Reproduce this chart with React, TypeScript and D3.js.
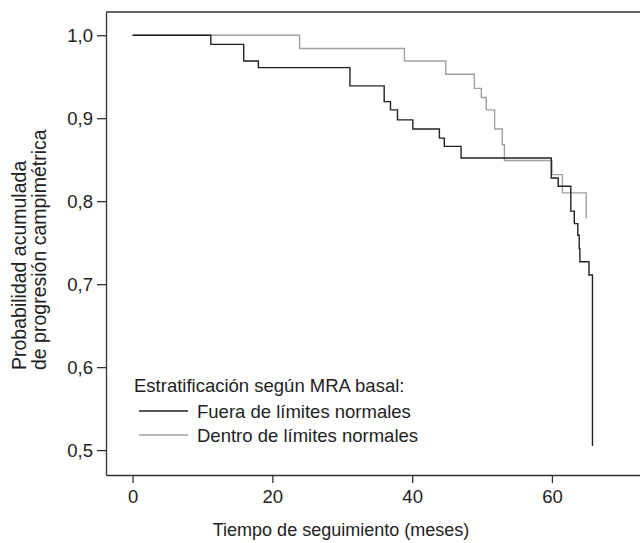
import { useEffect, useRef } from 'react';
import * as d3 from 'd3';

// Curvas de Kaplan-Meier: progresión campimétrica según MRA basal
const WIDTH = 640;
const HEIGHT = 543;
const BOX = { left: 106, right: 640, top: 12, bottom: 475 };
const FONT = '"Liberation Sans", Arial, Helvetica, sans-serif';

// Fuera de límites normales (negro)
const fueraTimes = [0, 11.2, 15.9, 18.0, 31.1, 36.0, 36.9, 37.9, 40.1, 43.9, 44.6, 47.0, 59.9, 60.9, 62.7, 63.2, 63.7, 63.9, 64.0, 65.3, 65.8];
const fueraSurv = [1.0, 0.989, 0.969, 0.961, 0.939, 0.92, 0.91, 0.898, 0.887, 0.876, 0.866, 0.852, 0.828, 0.818, 0.788, 0.773, 0.759, 0.743, 0.727, 0.711, 0.505];

// Dentro de límites normales (gris)
const dentroTimes = [0, 23.9, 38.9, 44.8, 48.9, 49.9, 50.6, 51.8, 52.9, 53.2, 60.0, 61.5, 64.9];
const dentroSurv = [1.0, 0.984, 0.969, 0.953, 0.936, 0.925, 0.91, 0.887, 0.868, 0.849, 0.832, 0.81, 0.779];

const xTicks = [0, 20, 40, 60];
const yTicks = [0.5, 0.6, 0.7, 0.8, 0.9, 1.0];

const legendTitle = 'Estratificación según MRA basal:';
const legendLabels = ['Fuera de límites normales', 'Dentro de límites normales'];
const legendColors = ['#222222', '#a0a0a0'];

const yTitle = ['Probabilidad acumulada', 'de progresión campimétrica'];

export default function App() {
  const xAxisRef = useRef<SVGGElement>(null);
  const yAxisRef = useRef<SVGGElement>(null);

  const x = d3.scaleLinear().domain([-3.8, 72.6]).range([BOX.left, BOX.right]);
  const y = d3.scaleLinear().domain([0.47, 1.028]).range([BOX.bottom, BOX.top]);

  const stepLine = d3
    .line<[number, number]>()
    .x((d) => x(d[0]))
    .y((d) => y(d[1]))
    .curve(d3.curveStepAfter);

  const fueraPath = stepLine(fueraTimes.map((t, i) => [t, fueraSurv[i]]));
  const dentroPath = stepLine(dentroTimes.map((t, i) => [t, dentroSurv[i]]));

  useEffect(() => {
    const fmt = (v: d3.NumberValue) => d3.format('.1f')(+v).replace('.', ',');
    const gx = d3.select(xAxisRef.current!);
    gx.call(d3.axisBottom(x).tickValues(xTicks).tickSize(8).tickPadding(7).tickSizeOuter(0));
    const gy = d3.select(yAxisRef.current!);
    gy.call(d3.axisLeft(y).tickValues(yTicks).tickFormat(fmt).tickSize(9).tickPadding(4).tickSizeOuter(0));
    [gx, gy].forEach((g) => {
      g.attr('font-family', FONT).attr('font-size', 18.5);
      g.selectAll('path, line').attr('stroke', '#333').attr('stroke-width', 1.3);
      g.selectAll('text').attr('fill', '#222');
    });
  }, []);

  return (
    <svg width={WIDTH} height={HEIGHT} style={{ position: 'absolute', left: 0, top: 0, background: '#fff' }}>
      <line x1={BOX.left} x2={BOX.right} y1={BOX.top} y2={BOX.top} stroke="#333" strokeWidth={1.3} />
      <path d={dentroPath ?? ''} fill="none" stroke={legendColors[1]} strokeWidth={1.4} />
      <path d={fueraPath ?? ''} fill="none" stroke={legendColors[0]} strokeWidth={1.4} />
      <g ref={xAxisRef} transform={`translate(0,${BOX.bottom})`} />
      <g ref={yAxisRef} transform={`translate(${BOX.left},0)`} />

      <g fontFamily={FONT} fontSize={18.5} fill="#222">
        <text x={134} y={392}>{legendTitle}</text>
        {legendLabels.map((label, i) => (
          <g key={label} transform={`translate(0,${411 + i * 24})`}>
            <line x1={139} x2={188} y1={0} y2={0} stroke={legendColors[i]} strokeWidth={1.4} />
            <text x={197} y={6.5}>{label}</text>
          </g>
        ))}
        <text x={341} y={536} fontSize={18} textAnchor="middle">Tiempo de seguimiento (meses)</text>
        {yTitle.map((line, i) => (
          <text key={line} transform={`translate(${26 + i * 20},370) rotate(-90)`} fontSize={19.5}>
            {line}
          </text>
        ))}
      </g>
    </svg>
  );
}
